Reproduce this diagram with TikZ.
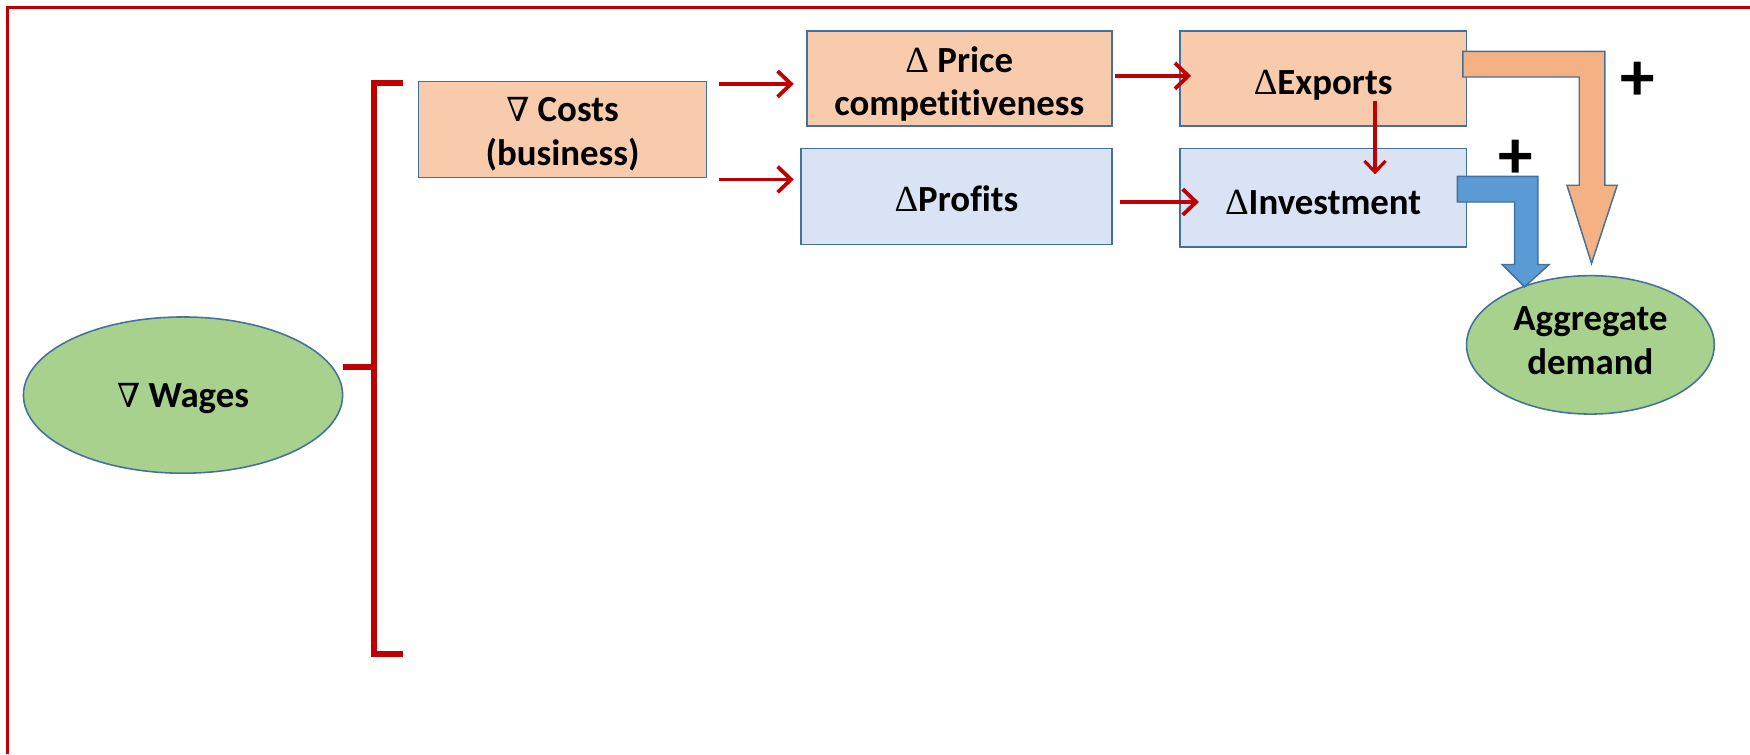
\documentclass[tikz,border=0pt]{standalone}
\usepackage{fontspec}
\setmainfont[Ligatures=NoCommon]{Carlito}
\newfontfamily\symfont{Liberation Serif}
\newfontfamily\nablafont{DejaVu Serif}
\newcommand{\dlt}{{\symfont\mdseries Δ}}
\newcommand{\nbl}{{\nablafont\mdseries\scalebox{0.9}{∇}}}
\newcommand{\lowtext}[2]{\raisebox{-#1}[\height][\depth]{\begin{tabular}{@{}c@{}}#2\end{tabular}}}
\usetikzlibrary{arrows.meta,calc,shapes.geometric}
\definecolor{redc}{HTML}{C00000}
\definecolor{boxorange}{HTML}{F8CBAD}
\definecolor{boxblue}{HTML}{DAE3F3}
\definecolor{outl}{HTML}{41719C}
\definecolor{greenfill}{HTML}{A9D18E}
\definecolor{arrorange}{HTML}{F4B183}
\definecolor{arrblue}{HTML}{5B9BD5}
\begin{document}
\begin{tikzpicture}[x=1pt,y=-1pt,
  lbl/.style={font=\fontsize{33}{39}\selectfont\bfseries, inner sep=0pt},
  obox/.style={lbl, draw=outl, line width=1.6pt, fill=boxorange, rectangle},
  bbox/.style={lbl, draw=outl, line width=1.6pt, fill=boxblue, rectangle},
  gell/.style={lbl, ellipse, draw=outl, line width=1.4pt, fill=greenfill},
  rarr/.style={draw=redc, line width=3.4pt, -{Straight Barb[length=12pt,width=23pt]}},
  rarrthin/.style={draw=redc, line width=2.8pt, -{Straight Barb[length=10pt,width=19pt]}},
  brk/.style={draw=redc, line width=5.4pt},
  blockarr/.style={draw=outl, line width=1.3pt, line join=miter},
  plussign/.style={font=\fontsize{62}{62}\selectfont\bfseries, inner sep=0pt}
]
\useasboundingbox (0,0) rectangle (1568,676);
% frame
\draw[redc, line width=3pt] (6.7,676) -- (6.7,6.7) -- (1568,6.7);
% nodes
\node[gell, minimum width=286pt, minimum height=140pt] (wages) at (164,354) {\lowtext{3pt}{\nbl\ Wages}};
\node[obox, minimum width=258pt, minimum height=86pt] (costs) at (504,116) {\lowtext{5pt}{\nbl\ Costs\\(business)}};
\node[obox, minimum width=273pt, minimum height=85pt] (price) at (859.5,70.5) {\lowtext{6pt}{\dlt\ Price\\competitiveness}};
\node[bbox, minimum width=278pt, minimum height=86pt] (profits) at (857,176) {\lowtext{6pt}{\dlt Profits}};
\node[obox, minimum width=257pt, minimum height=85pt] (exports) at (1185.5,70.5) {\lowtext{6pt}{\dlt Exports}};
\node[bbox, minimum width=257pt, minimum height=88pt] (invest) at (1185.5,177) {\lowtext{7pt}{\dlt Investment}};
\node[gell, minimum width=222pt, minimum height=124pt] (agg) at (1425,309) {\lowtext{-1pt}{Aggregate\\demand}};
% bracket
\coordinate (btop) at (361,74);
\coordinate (bbot) at (361,586);
\coordinate (bmid) at (335,329);
\draw[brk, line cap=butt] (btop) -- (btop -| bmid) -- (bbot -| bmid) -- (bbot);
\draw[brk] (wages.east |- bmid) -- (bmid);
% red arrows
\draw[rarr] ($(costs.north east)+(10,3)$) -- ($(costs.north east -| price.west)+(-11,3)$);
\draw[rarr] ($(costs.south east)+(10,1)$) -- ($(costs.south east -| profits.west)+(-6,1)$);
\draw[rarr] ($(price.east)+(2,-2.5)$) -- ($(exports.west)+(11,-2.5)$);
\draw[rarr] ($(profits.east)+(7,5)$) -- ($(profits.east -| invest.west)+(18,5)$);
\draw[rarrthin] ($(exports.south)+(46.5,-23)$) -- ($(invest.north)+(46.5,24)$);
% block arrows
\path[blockarr, fill=arrorange] ($(exports.east)+(-4,-24.5)$) -- (1438,46) -- (1438,166) -- (1449,166)
  -- (1426,236) -- (1404,166) -- (1415,166) -- (1415,69) -- ($(exports.east)+(-4,-1.5)$) -- cycle;
\path[blockarr, fill=arrblue] ($(invest.east)+(-9,-19)$) -- (1378,158) -- (1378,237) -- (1388,237)
  -- (1366,257) -- (1346,237) -- (1357,237) -- (1357,181) -- ($(invest.east)+(-9,4)$) -- cycle;
% plus signs
\node[plussign] (plus1) at (1467,73) {+};
\node[plussign] (plus2) at (1358,143) {+};
\end{tikzpicture}
\end{document}
